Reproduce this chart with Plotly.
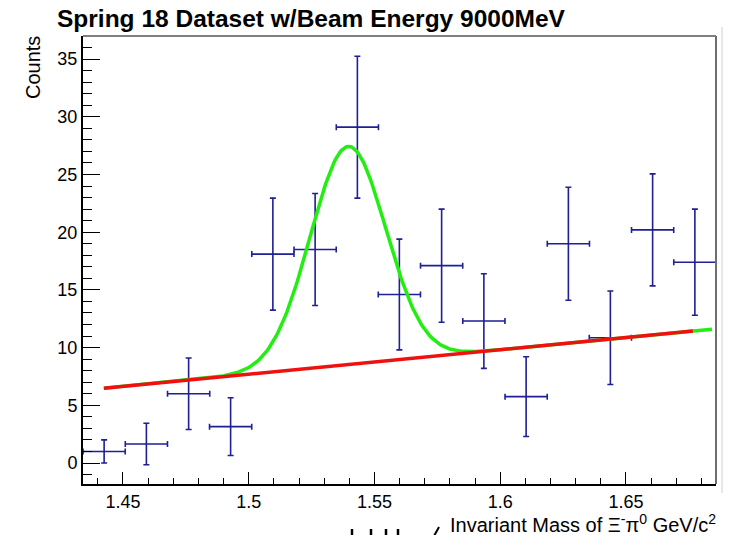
import numpy as np
import plotly.graph_objects as go

# ---- data ----
bin_centers = [1.4425, 1.4593, 1.4761, 1.4928, 1.5096, 1.5264, 1.5432, 1.5599,
               1.5767, 1.5935, 1.6103, 1.6271, 1.6438, 1.6606, 1.6774]
bin_halfwidth = 0.00839
counts = [1.0, 1.65, 6.0, 3.15, 18.1, 18.5, 29.1, 14.6, 17.1, 12.3, 5.75, 19.0, 10.85, 20.2, 17.4]
count_errors = [1.0, 1.8, 3.1, 2.5, 4.85, 4.85, 6.15, 4.8, 4.9, 4.1, 3.45, 4.9, 4.05, 4.85, 4.6]

# fit parameters (gaussian peak on a linear background)
bkg_p0 = 6.47        # background value at bkg_x0
bkg_x0 = 1.4424
bkg_slope = 21.2     # counts per GeV
gaus_amp = 18.9
gaus_mean = 1.5395
gaus_sigma = 0.0150
fit_range = [1.4424, 1.6842]
bkg_range = [1.4424, 1.6766]

x_ticks = [1.45, 1.5, 1.55, 1.6, 1.65]
x_tick_labels = ["1.45", "1.5", "1.55", "1.6", "1.65"]
y_ticks = [0, 5, 10, 15, 20, 25, 30, 35]

FONT = "Liberation Sans, Arial, Helvetica, sans-serif"
BLUE = "#1f1f96"

xf = np.linspace(fit_range[0], fit_range[1], 400)
yf = bkg_p0 + bkg_slope * (xf - bkg_x0) + gaus_amp * np.exp(-0.5 * ((xf - gaus_mean) / gaus_sigma) ** 2)
xb = np.linspace(bkg_range[0], bkg_range[1], 50)
yb = bkg_p0 + bkg_slope * (xb - bkg_x0)

fig = go.Figure()
fig.add_trace(go.Scatter(
    x=bin_centers, y=counts, mode="markers",
    marker=dict(size=1, color=BLUE),
    error_x=dict(type="constant", value=bin_halfwidth, color=BLUE, thickness=1.6, width=3),
    error_y=dict(type="data", array=count_errors, color=BLUE, thickness=1.6, width=3),
    showlegend=False, hoverinfo="skip"))
fig.add_trace(go.Scatter(x=xf, y=yf, mode="lines", line=dict(color="#22ee11", width=3.5),
                         showlegend=False, hoverinfo="skip"))
fig.add_trace(go.Scatter(x=xb, y=yb, mode="lines", line=dict(color="#f01010", width=3.5),
                         showlegend=False, hoverinfo="skip"))


def px(xpix):
    return (xpix - 83) / 633.0


def py(ypix):
    return (484 - ypix) / 448.0


artifact_shapes = []
for xp in [352, 371, 386, 398]:
    artifact_shapes.append(dict(type="line", xref="paper", yref="paper",
                                x0=px(xp), x1=px(xp), y0=py(529), y1=py(536),
                                line=dict(color="black", width=2.5)))
artifact_shapes.append(dict(type="line", xref="paper", yref="paper",
                            x0=px(434), x1=px(439), y0=py(536), y1=py(527),
                            line=dict(color="black", width=2)))

fig.update_layout(
    width=736, height=535,
    margin=dict(l=83, r=20, t=36, b=51),
    paper_bgcolor="white", plot_bgcolor="white",
    font=dict(family=FONT, color="black", size=18),
    xaxis=dict(range=[1.4341, 1.6858], showgrid=False, zeroline=False,
               showline=True, linecolor="black", linewidth=2,
               tickvals=x_ticks, ticktext=x_tick_labels,
               ticks="inside", ticklen=12, tickwidth=1, tickcolor="black",
               minor=dict(dtick=0.01, tick0=1.45, ticks="inside", ticklen=6, tickcolor="black", tickwidth=1),
               tickfont=dict(size=18, family=FONT, color="black")),
    yaxis=dict(range=[-1.82, 37.0], showgrid=False, zeroline=False,
               showline=True, linecolor="black", linewidth=2,
               tickvals=y_ticks,
               ticks="inside", ticklen=17, tickwidth=1, tickcolor="black",
               minor=dict(dtick=1, tick0=0, ticks="inside", ticklen=9, tickcolor="black", tickwidth=1),
               tickfont=dict(size=18, family=FONT, color="black")),
    shapes=[
        dict(type="line", xref="paper", yref="paper", x0=0, x1=1, y0=1, y1=1,
             line=dict(color="black", width=1.2)),
        dict(type="line", xref="paper", yref="paper", x0=1, x1=1, y0=0, y1=1,
             line=dict(color="#6e6e6e", width=2)),
        dict(type="line", xref="paper", yref="paper", x0=1.0095, x1=1.0095, y0=-0.02, y1=1.02,
             line=dict(color="#cfcfcf", width=1)),
    ] + artifact_shapes,
    annotations=[
        dict(text="<b>Spring 18 Dataset w/Beam Energy 9000MeV</b>", xref="paper", yref="paper",
             x=px(55), y=py(18), xanchor="left", yanchor="middle", showarrow=False,
             font=dict(size=24.5, family=FONT, color="black")),
        dict(text="Counts", xref="paper", yref="paper", x=px(33), y=py(68),
             xanchor="center", yanchor="middle", textangle=-90, showarrow=False,
             font=dict(size=20, family=FONT, color="black")),
        dict(text="Invariant Mass of \u039e<sup>-</sup>\u03c0<sup>0</sup> GeV/c<sup>2</sup>",
             xref="paper", yref="paper", x=px(718), y=py(523.5), xanchor="right", yanchor="middle",
             showarrow=False, font=dict(size=20, family=FONT, color="black")),
    ],
)

fig.write_html("out.html")
